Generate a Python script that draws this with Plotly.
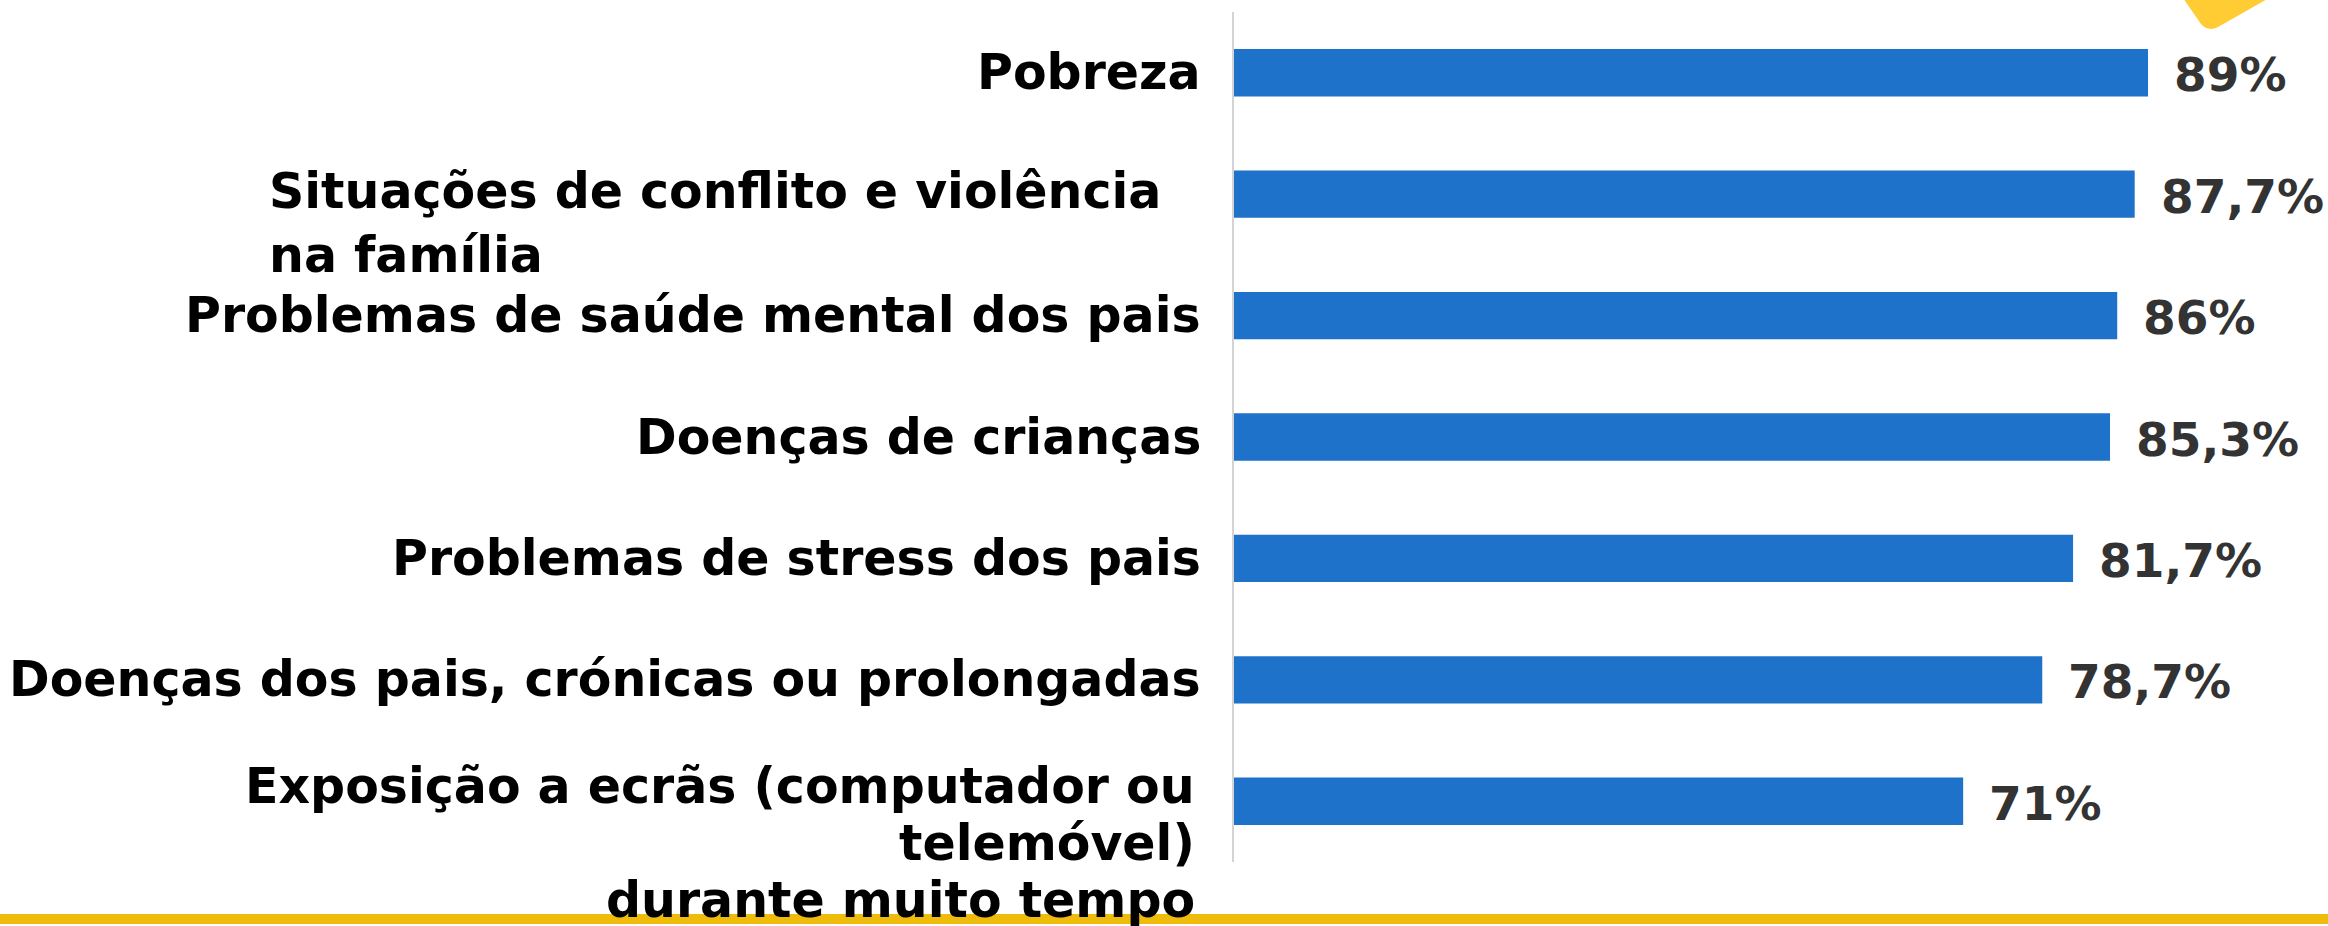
import plotly.graph_objects as go

categories = [
    "Pobreza",
    "Situações de conflito e violência<br>na família",
    "Problemas de saúde mental dos pais",
    "Doenças de crianças",
    "Problemas de stress dos pais",
    "Doenças dos pais, crónicas ou prolongadas",
    "Exposição a ecrãs (computador ou<br>telemóvel)<br>durante muito tempo",
]
values = [89, 87.7, 86, 85.3, 81.7, 78.7, 71]
value_labels = ["89%", "87,7%", "86%", "85,3%", "81,7%", "78,7%", "71%"]

W, H = 2328, 926
L, R, T, B = 1234, 28, 12, 64
PW = W - L - R
PH = H - T - B
px_per_unit = 10.27
XMAX = PW / px_per_unit


def pxx(p):
    return (p - L) / PW


def pxy(p):
    return (H - B - p) / PH


BAR = "#1f72c9"
LABEL_FONT = dict(family="DejaVu Sans", size=49, color="#000000", weight="bold")
VAL_FONT = dict(family="DejaVu Sans", size=47, color="#333333", weight="bold")
LINE_H = 57

fig = go.Figure(go.Bar(
    x=values, y=categories, orientation="h",
    marker=dict(color=BAR, line=dict(width=0)),
    hoverinfo="skip",
))

annotations = []
label_specs = {
    0: dict(xr=1203, off=0, align="right"),
    1: dict(xr=1163, off=0, align="left"),
    2: dict(xr=1203, off=0, align="right"),
    3: dict(xr=1203, off=0, align="right"),
    4: dict(xr=1203, off=0, align="right"),
    5: dict(xr=1203, off=0, align="right"),
    6: dict(xr=1197, off=-15, align="right"),
}
for i, (c, v, t) in enumerate(zip(categories, values, value_labels)):
    s = label_specs[i]
    lines = c.split("<br>")
    if s["align"] == "left" and len(lines) > 1:
        annotations.append(dict(
            x=pxx(s["xr"]), xref="paper", y=c, yref="y",
            text=c, showarrow=False, xanchor="right", yanchor="middle",
            align="left", yshift=-(s["off"] + 58 * (len(lines) - 1) / 2),
            font=LABEL_FONT,
        ))
    else:
        for k, ln in enumerate(lines):
            annotations.append(dict(
                x=pxx(s["xr"]), xref="paper", y=c, yref="y",
                text=ln, showarrow=False, xanchor="right", yanchor="middle",
                align="right", yshift=-(s["off"] + LINE_H * k), font=LABEL_FONT,
            ))
    annotations.append(dict(
        x=v, xref="x", y=c, yref="y", text=t, showarrow=False,
        xanchor="left", yanchor="middle", xshift=24, yshift=-2, font=VAL_FONT,
    ))

shapes = [
    dict(type="rect", xref="paper", yref="paper",
         x0=pxx(0), x1=pxx(W), y0=pxy(924), y1=pxy(914),
         fillcolor="#efbc0b", line=dict(width=0), layer="above"),
    dict(type="path", xref="paper", yref="paper",
         path=(f"M {pxx(2183)},{pxy(-2)} L {pxx(2201)},{pxy(24)} "
               f"Q {pxx(2208)},{pxy(32)} {pxx(2218)},{pxy(27)} "
               f"L {pxx(2262)},{pxy(2)} Q {pxx(2266)},{pxy(0)} {pxx(2268)},{pxy(-2)} Z"),
         fillcolor="#ffcc33", line=dict(width=0), layer="above"),
]

fig.update_layout(
    width=W, height=H,
    margin=dict(l=L, r=R, t=T, b=B, pad=0),
    paper_bgcolor="white", plot_bgcolor="white",
    bargap=0.61, showlegend=False,
    xaxis=dict(range=[0, XMAX], visible=False, showgrid=False, zeroline=False),
    yaxis=dict(autorange="reversed", showticklabels=False, ticks="",
               showgrid=False, zeroline=False, showline=True,
               linecolor="#d4d4d4", linewidth=2),
    annotations=annotations, shapes=shapes,
)

fig.write_html(
    "out.html",
    config={"displayModeBar": False},
    post_script="document.body.style.margin='0';document.body.style.overflow='hidden';",
)
